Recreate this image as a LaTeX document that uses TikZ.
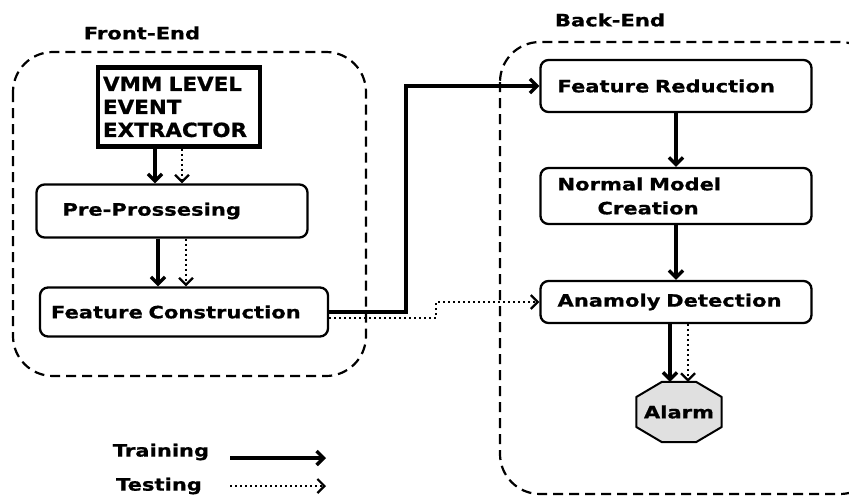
\documentclass[tikz,border=0pt]{standalone}
\usepackage{fontspec}
\setmainfont{DejaVu Sans}[FakeStretch=1.24, BoldFeatures={FakeBold=0.8}]
\newfontfamily\vmmfont{DejaVu Sans}[FakeStretch=1.1, BoldFeatures={FakeBold=0.8}]
\usepackage{tikz}
\usetikzlibrary{arrows.meta, positioning, backgrounds}

\tikzset{
  stage/.style={draw, rounded corners=8pt, line width=2.3pt, align=left,
    font=\bfseries\fontsize{17}{24}\selectfont},
  region/.style={draw, rounded corners=40pt, line width=2.2pt,
    dash pattern=on 10pt off 6pt},
  train/.style={->, line width=3.4pt},
  test/.style={->, line width=2.2pt, dash pattern=on 2pt off 3pt},
  tag/.style={font=\bfseries\fontsize{17}{20}\selectfont}
}

\begin{document}
\begin{tikzpicture}[x=1pt, y=1pt, >={Straight Barb[length=7pt, width=14pt]},
node distance = 108pt]
\path[use as bounding box, clip] (0,0) rectangle (849,-498);

% regions
\draw [region] (13,-52) rectangle (366,-376);
\draw [region] (500,-42) rectangle (880,-494);
\node [tag] (fronttag) at (142,-33) {Front-End};
\node [tag] (backtag) at (610,-20) {Back-End};

% front-end
\node [draw, line width=4.5pt, text width=152pt, inner xsep=5pt, minimum height=79pt,
  align=left, font=\vmmfont\bfseries\fontsize{19.5}{23}\selectfont]
  (vmm) at (179,-107) {VMM LEVEL\\EVENT\\EXTRACTOR};
\node [stage, text width=219pt, inner xsep=26pt, minimum height=53pt]
  (pre) [below of=vmm, xshift=-7pt, node distance=104pt] {Pre-Prossesing};
\node [stage, text width=266pt, inner xsep=11pt, minimum height=49pt]
  (fc) [below of=pre, xshift=12pt, node distance=101pt] {Feature Construction};

\draw [train] ([xshift=-24pt]vmm.south) -- ([xshift=-24pt]vmm.south |- pre.north);
\draw [test] ([xshift=3pt]vmm.south) -- ([xshift=3pt]vmm.south |- pre.north);
\draw [train] ([xshift=-14pt]pre.south) -- ([xshift=-14pt]pre.south |- fc.north);
\draw [test] ([xshift=14pt]pre.south) -- ([xshift=14pt]pre.south |- fc.north);

% back-end
\node [stage, text width=237pt, inner xsep=17pt, minimum height=52pt]
  (fr) at (676,-86) {Feature Reduction};
\node [stage, text width=237pt, inner xsep=17pt, minimum height=56pt]
  (nmc) [below of=fr, node distance=110pt] {Normal Model\\\hspace*{40pt}Creation};
\node [stage, text width=237pt, inner xsep=17pt, minimum height=42pt]
  (ad) [below of=nmc, node distance=106pt] {Anamoly Detection};
\node [tag, minimum width=85pt, minimum height=60pt, inner sep=0pt]
  (alarm) [below of=ad, node distance=110pt, xshift=3pt] {Alarm};
\begin{scope}[on background layer]
\draw [fill=black!12, line width=2pt, line join=round]
  ([xshift=-17pt]alarm.north) -- ([xshift=17pt]alarm.north)
  -- ([yshift=15pt]alarm.east) -- ([yshift=-15pt]alarm.east)
  -- ([xshift=17pt]alarm.south) -- ([xshift=-17pt]alarm.south)
  -- ([yshift=-15pt]alarm.west) -- ([yshift=15pt]alarm.west) -- cycle;
\end{scope}

\draw [train] (fr) -- (nmc);
\draw [train] (nmc) -- (ad);
\draw [train] ([xshift=-6pt]ad.south) -- ([xshift=-6pt]ad.south |- alarm.north);
\draw [test] ([xshift=12pt]ad.south) -- ([xshift=12pt]ad.south |- alarm.north);

% front to back
\draw [train] (fc.east) -- ++(77,0) |- (fr.west);
\draw [test] ([yshift=-6pt]fc.east) -- ++(107,0) |- (ad.west);

% legend
\node [tag] (legtrain) at (161,-452) {Training};
\node [tag] (legtest) at (159,-486) {Testing};
\coordinate (trainA) at (230,-458);
\coordinate (trainB) at (326,-458);
\coordinate (testA) at (230,-486);
\coordinate (testB) at (326,-486);
\draw [train] (trainA) -- (trainB);
\draw [test] (testA) -- (testB);

\end{tikzpicture}
\end{document}
